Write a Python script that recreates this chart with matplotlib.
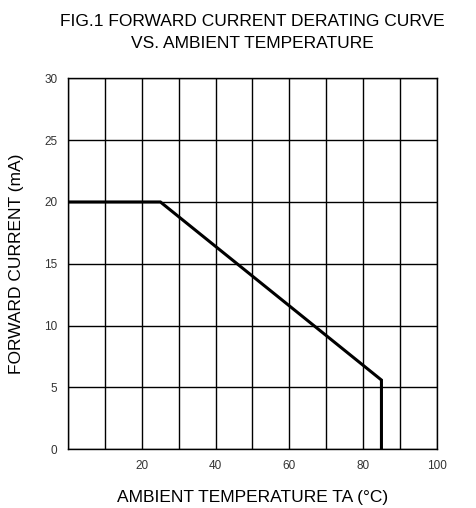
import numpy as np
import matplotlib
matplotlib.use("Agg")
import matplotlib.pyplot as plt

plt.rcParams['font.family'] = ['Liberation Sans', 'DejaVu Sans']

# Derating curve: ambient temperature (deg C) vs forward current (mA)
temp = [0, 25, 85, 85]
current = [20, 20, 5.6, 0]

x_ticks = [20, 40, 60, 80, 100]
x_tick_labels = ["20", "40", "60", "80", "100"]
y_ticks = [0, 5, 10, 15, 20, 25, 30]
y_tick_labels = ["0", "5", "10", "15", "20", "25", "30"]

title = "FIG.1 FORWARD CURRENT DERATING CURVE\nVS. AMBIENT TEMPERATURE"
x_label = "AMBIENT TEMPERATURE TA (°C)"
y_label = "FORWARD CURRENT (mA)"

fig = plt.figure(figsize=(4.77, 5.08), dpi=100)
ax = fig.add_axes([68.3 / 477, 1 - 449.3 / 508, (436.7 - 68.3) / 477, (449.3 - 78.3) / 508])

ax.plot(temp, current, color="black", linewidth=2.2, solid_joinstyle="miter")

ax.set_xlim(0, 100)
ax.set_ylim(0, 30)

# grid every 10 deg C and every 5 mA
ax.set_xticks(np.arange(0, 101, 10), minor=True)
ax.set_xticks(x_ticks)
ax.set_xticklabels(x_tick_labels)
ax.set_yticks(y_ticks)
ax.set_yticklabels(y_tick_labels)
ax.grid(True, which="both", color="black", linewidth=1.0)
ax.set_axisbelow(True)
ax.tick_params(which="both", length=0, labelsize=8.5, colors="#333333", pad=8)
for s in ax.spines.values():
    s.set_linewidth(1.0)
    s.set_color("black")

ax.set_xlabel(x_label, fontsize=12.5, labelpad=13)
ax.set_ylabel(y_label, fontsize=12.5, labelpad=14)
ax.set_title(title, fontsize=12.5, pad=22, linespacing=1.55)

fig.savefig("out.png", dpi=100)
